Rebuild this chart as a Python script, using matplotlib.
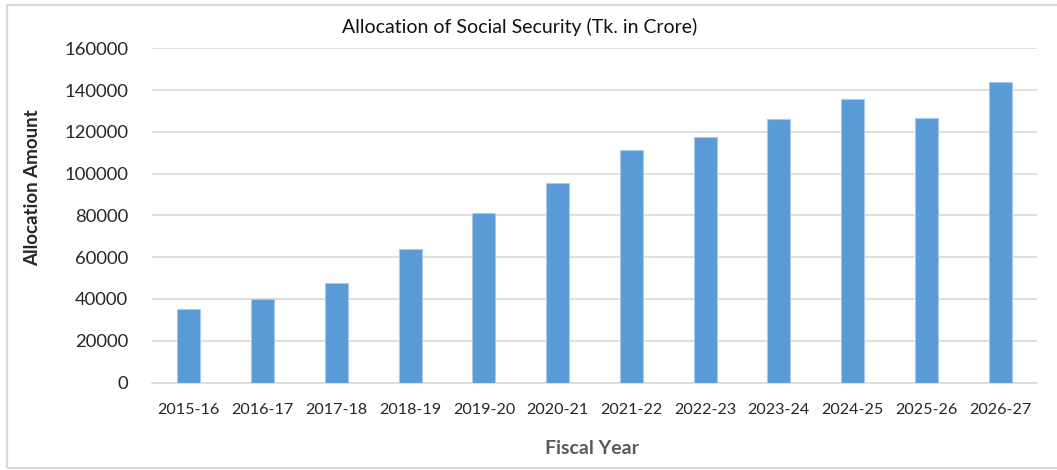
import matplotlib
matplotlib.use("Agg")
import matplotlib.pyplot as plt
from matplotlib import font_manager
from matplotlib.patches import Rectangle

# Allocation of social security by fiscal year (Tk. in crore)
fiscal_years = ["2015-16", "2016-17", "2017-18", "2018-19", "2019-20", "2020-21",
                "2021-22", "2022-23", "2023-24", "2024-25", "2025-26", "2026-27"]
allocation = [35200, 40000, 47800, 63700, 81300, 95300,
              111300, 117500, 126000, 135500, 126600, 144100]
y_ticks = [0, 20000, 40000, 60000, 80000, 100000, 120000, 140000, 160000]

# Humanist sans face close to the office default
installed = {f.name for f in font_manager.fontManager.ttflist}
family = next((f for f in ["Lato", "Open Sans", "DejaVu Sans"] if f in installed),
              "DejaVu Sans")
plt.rcParams["font.family"] = [family, "DejaVu Sans"]

W, H = 1057, 470
fig = plt.figure(figsize=(W / 100, H / 100), dpi=100)
ax = fig.add_axes([152 / W, 1 - 382.5 / H, (1037 - 152) / W, (382.5 - 48.3) / H])

# Light outer chart frame
fig.patches.append(Rectangle((7 / W, 1 - 468 / H), 1.2, (468 - 4.5) / H,
                             transform=fig.transFigure, fill=False,
                             edgecolor="#d9d9d9", linewidth=1.6, clip_on=False))

x = range(len(fiscal_years))
ax.bar(x, allocation, width=0.31, color="#5b9bd5", edgecolor="#a9c8ea",
       linewidth=0.8, zorder=3)

ax.set_xlim(-0.5, len(fiscal_years) - 0.5)
ax.set_ylim(0, 160000)
ax.set_yticks(y_ticks)
ax.set_yticklabels([str(v) for v in y_ticks])
ax.set_xticks(list(x))
ax.set_xticklabels(fiscal_years)

ax.grid(axis="y", color="#d9d9d9", linewidth=1.2, zorder=0)
for side in ["top", "right", "left"]:
    ax.spines[side].set_visible(False)
ax.spines["bottom"].set_color("#d9d9d9")
ax.spines["bottom"].set_linewidth(1.2)
ax.tick_params(axis="both", length=0, colors="#262626")
ax.tick_params(axis="y", labelsize=13.3, pad=17)
ax.tick_params(axis="x", labelsize=11.6, pad=15)

fig.text(520 / W, 1 - 27 / H, "Allocation of Social Security (Tk. in Crore)",
         ha="center", va="center", fontsize=14, color="#111111")
fig.text(33 / W, 1 - 188 / H, "Allocation Amount", rotation=90,
         ha="center", va="center", fontsize=13.5, fontweight="bold", color="#262626")
fig.text(592 / W, 1 - 449 / H, "Fiscal Year", ha="center", va="center",
         fontsize=14, fontweight="bold", color="#595959")

fig.savefig("out.png", dpi=100)
